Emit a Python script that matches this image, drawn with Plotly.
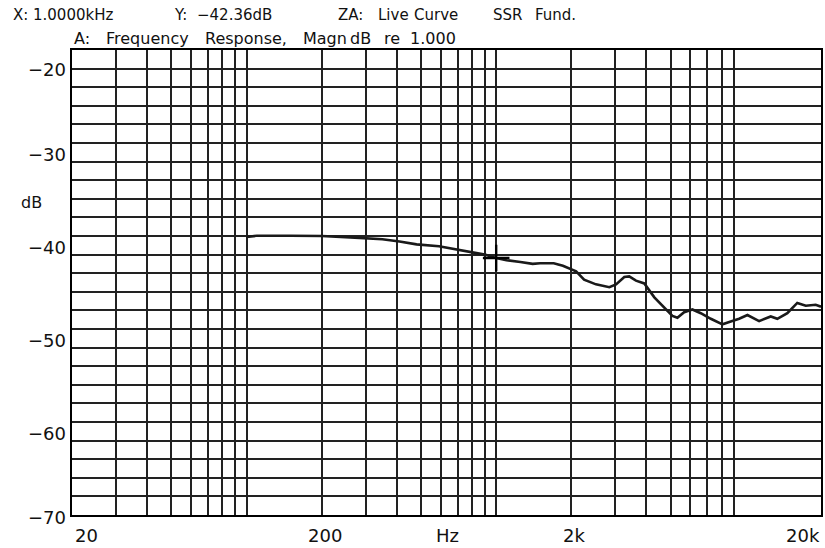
import math
import plotly.graph_objects as go

# ---- data ----
freq_hz = [100, 110, 150, 200, 260, 300, 350, 410, 480, 590, 700, 800, 900, 1000,
           1100, 1250, 1400, 1500, 1700, 1850, 2090, 2250, 2510, 2840, 3020, 3260,
           3410, 3630, 3920, 4300, 4640, 5080, 5320, 5660, 6110, 6600, 7240, 8060,
           8700, 9400, 10150, 11300, 12580, 13370, 14660, 16070, 17380, 19040, 20000]
magn_db = [-40.1, -39.97, -39.97, -40.0, -40.15, -40.25, -40.35, -40.6, -40.9, -41.1,
           -41.45, -41.75, -42.0, -42.36, -42.6, -42.8, -43.0, -42.93, -42.93, -43.2,
           -43.8, -44.7, -45.2, -45.5, -45.2, -44.4, -44.35, -44.8, -45.1, -46.6,
           -47.5, -48.6, -48.8, -48.2, -47.9, -48.3, -48.9, -49.5, -49.2, -48.9,
           -48.5, -49.15, -48.65, -48.9, -48.3, -47.2, -47.5, -47.4, -47.6]
cursor_hz = [1000]
cursor_db = [-42.36]

x_grid = [m * 10 ** e for e in (1, 2, 3) for m in range(1, 10)] + [20000]
x_grid = [v for v in x_grid if 20 <= v <= 20000]
y_grid = list(range(-70, -19, 2))
y_labels = [-20, -30, -40, -50, -60, -70]
x_label_vals = [20, 200, 2000, 20000]
x_label_text = ["20", "200", "2k", "20k"]
x_unit = "Hz"
header_words = ["X:", "1.0000kHz", "Y:", "\u221242.36dB", "ZA:", "Live", "Curve", "SSR", "Fund."]
subtitle_words = ["A:", "Frequency", "Response,", "Magn", "dB", "re", "1.000"]

# ---- style / layout (window pixels) ----
FONT = "DejaVu Sans"
INK = "#111111"
GRID = "#222222"
W, H = 825, 548
PL, PR, PT, PB = 72, 823, 50, 515          # plot box in window pixels
L, R, T, B = PL, W - PR, PT, H - PB
PW, PH = W - L - R, H - T - B

def px_x(p):
    return (p - L) / PW

def px_y(p):
    return (H - B - p) / PH

header_x = [12, 32, 173, 196, 338, 378, 414, 493, 535]
subtitle_x = [73, 105, 204, 303, 350, 384, 410]

fig = go.Figure()
fig.add_trace(go.Scatter(x=freq_hz, y=magn_db, mode="lines",
                         line=dict(color="#1a1a1a", width=2.6), hoverinfo="skip",
                         showlegend=False))
fig.add_trace(go.Scatter(x=cursor_hz, y=cursor_db, mode="markers",
                         marker=dict(symbol="cross-thin", size=19,
                                     line=dict(color="#000", width=2.4)),
                         showlegend=False, hoverinfo="skip"))

ann = []
yshift = {-20: -19, -70: -2}
for v in y_labels:
    ann.append(dict(x=0, xref="paper", y=v, yref="y", xanchor="right", yanchor="middle",
                    xshift=-4, yshift=yshift.get(v, -11), showarrow=False,
                    text=("\u2212" + str(abs(v))), font=dict(family=FONT, size=18, color=INK)))
anchors = {20: ("left", 1), 20000: ("right", 1)}
for v, t in zip(x_label_vals, x_label_text):
    a, s = anchors.get(v, ("center", 3))
    ann.append(dict(x=math.log10(v), xref="x", y=0, yref="paper",
                    xanchor=a, yanchor="top", xshift=s, yshift=-8, showarrow=False,
                    text=t, font=dict(family=FONT, size=18, color=INK)))
ann.append(dict(x=px_x(449), xref="paper", y=0, yref="paper", xanchor="center",
                yanchor="top", yshift=-8, showarrow=False, text=x_unit,
                font=dict(family=FONT, size=18, color=INK)))
ann.append(dict(x=px_x(31), xref="paper", y=px_y(202), yref="paper", xanchor="center",
                yanchor="middle", showarrow=False, text="dB",
                font=dict(family=FONT, size=16, color=INK)))
for t, p in zip(header_words, header_x):
    ann.append(dict(x=px_x(p), xref="paper", y=px_y(15), yref="paper", xanchor="left",
                    yanchor="middle", showarrow=False, text=t, xshift=-1,
                    font=dict(family=FONT, size=15, color=INK)))
for t, p in zip(subtitle_words, subtitle_x):
    ann.append(dict(x=px_x(p), xref="paper", y=px_y(39), yref="paper", xanchor="left",
                    yanchor="middle", showarrow=False, text=t, xshift=-1,
                    font=dict(family=FONT, size=16, color=INK)))

fig.update_layout(
    width=W, height=H, margin=dict(l=L, r=R, t=T, b=B, pad=0),
    paper_bgcolor="white", plot_bgcolor="white", annotations=ann,
    xaxis=dict(type="log", range=[math.log10(20), math.log10(20000)],
               tickvals=x_grid, showticklabels=False, ticks="", showgrid=True,
               gridcolor=GRID, gridwidth=1.5, showline=True, linecolor="#000",
               linewidth=2, mirror=True, zeroline=False, fixedrange=True),
    yaxis=dict(range=[-70, -20], tickvals=y_grid, showticklabels=False, ticks="",
               showgrid=True, gridcolor=GRID, gridwidth=1.5, showline=True,
               linecolor="#000", linewidth=2, mirror=True, zeroline=False, fixedrange=True),
)
fig.write_html("out.html", config={"displayModeBar": False},
               post_script="document.body.style.margin='0px';"
                           "document.body.style.overflow='hidden';")
